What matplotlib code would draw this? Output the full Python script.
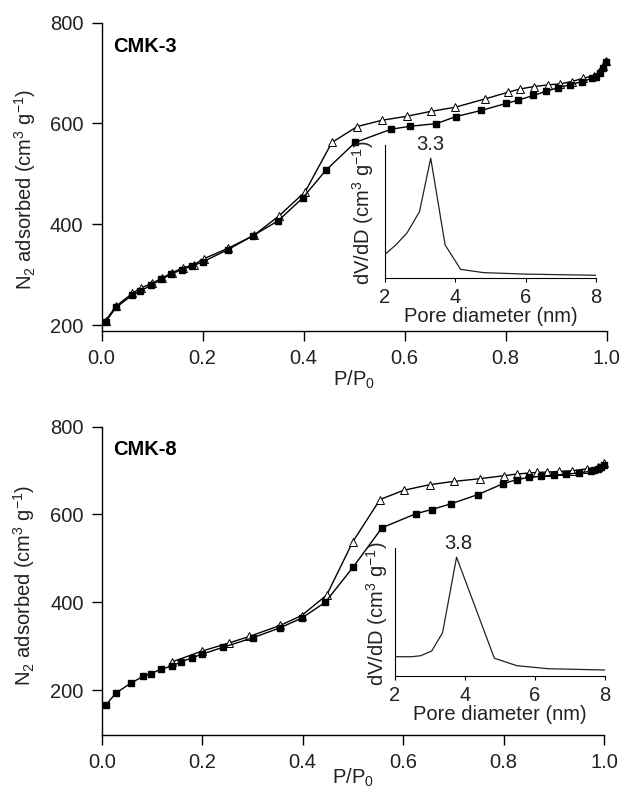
import matplotlib
matplotlib.use("Agg")
import matplotlib.pyplot as plt

plt.rcParams['font.family'] = ['Liberation Sans', 'DejaVu Sans']
plt.rcParams['mathtext.fontset'] = 'custom'
plt.rcParams['mathtext.rm'] = 'Liberation Sans'
plt.rcParams['mathtext.it'] = 'Liberation Sans:italic'
plt.rcParams['mathtext.bf'] = 'Liberation Sans:bold'

# ---------------- data: CMK-3 ----------------
cmk3_ads_p = [0.008, 0.029, 0.061, 0.076, 0.0985, 0.118, 0.138, 0.159, 0.180, 0.200,
              0.250, 0.2995, 0.350, 0.398, 0.444, 0.502, 0.573, 0.611, 0.663, 0.701,
              0.752, 0.801, 0.825, 0.855, 0.879, 0.904, 0.927, 0.951, 0.971, 0.979,
              0.987, 0.993, 0.998]
cmk3_ads_v = [206.6, 235.4, 259.7, 267.6, 279.4, 290.6, 301.1, 310.3, 317.5, 325.4,
              349.7, 377.2, 407.4, 452.1, 507.2, 562.4, 588.6, 594.5, 599.8, 613.6,
              626.0, 639.8, 646.4, 655.6, 663.5, 671.3, 676.6, 683.2, 689.7, 693.0,
              699.6, 709.4, 722.6]
cmk3_des_p = [0.998, 0.993, 0.985, 0.975, 0.953, 0.931, 0.908, 0.883, 0.857, 0.829,
              0.805, 0.760, 0.699, 0.652, 0.604, 0.555, 0.506, 0.456, 0.403, 0.352,
              0.301, 0.250, 0.203, 0.183, 0.161, 0.139, 0.120, 0.100, 0.078, 0.061,
              0.029, 0.008]
cmk3_des_v = [723.8, 714.0, 702.8, 695.0, 689.7, 683.2, 678.6, 676.6, 673.3, 668.7,
              662.1, 649.0, 632.0, 624.1, 614.3, 606.4, 593.9, 562.4, 464.6, 417.3,
              377.9, 352.3, 332.0, 320.2, 313.6, 303.7, 293.9, 282.7, 274.1, 263.0,
              238.0, 209.0]
cmk3_psd_d = [2.0, 2.3, 2.62, 2.98, 3.3, 3.71, 4.15, 4.8, 6.0, 8.0]
cmk3_psd_v = [0.176, 0.245, 0.335, 0.497, 0.90, 0.246, 0.063, 0.038, 0.027, 0.018]
cmk3_peak = 3.3

# ---------------- data: CMK-8 ----------------
cmk8_ads_p = [0.008, 0.029, 0.059, 0.083, 0.098, 0.118, 0.140, 0.158, 0.179, 0.199,
              0.241, 0.301, 0.355, 0.398, 0.445, 0.501, 0.558, 0.625, 0.657, 0.695,
              0.749, 0.799, 0.826, 0.850, 0.874, 0.900, 0.925, 0.950, 0.974, 0.980,
              0.988, 0.994, 1.0]
cmk8_ads_v = [166.0, 194.0, 216.6, 231.7, 237.7, 247.5, 255.1, 264.2, 273.2, 281.5,
              297.4, 319.2, 341.9, 363.8, 400.0, 480.8, 569.8, 601.5, 611.3, 624.2,
              645.3, 670.2, 679.2, 684.5, 686.8, 689.8, 691.3, 695.1, 698.1, 700.4,
              703.4, 708.7, 713.2]
cmk8_des_p = [1.0, 0.988, 0.966, 0.937, 0.911, 0.886, 0.866, 0.850, 0.826, 0.800,
              0.753, 0.702, 0.653, 0.601, 0.554, 0.500, 0.448, 0.398, 0.355, 0.294,
              0.253, 0.200, 0.140]
cmk8_des_v = [717.7, 707.2, 704.2, 699.6, 698.1, 696.6, 695.8, 694.3, 692.1, 688.3,
              681.5, 675.5, 667.9, 655.1, 634.0, 538.1, 416.6, 369.8, 347.2, 322.3,
              307.2, 289.0, 264.2]
cmk8_psd_d = [2.0, 2.48, 2.74, 3.05, 3.36, 3.76, 4.84, 5.48, 6.38, 8.0]
cmk8_psd_v = [0.151, 0.151, 0.159, 0.196, 0.339, 0.93, 0.139, 0.081, 0.057, 0.047]
cmk8_peak = 3.8

yticks = [200, 400, 600, 800]
xticks = [0.0, 0.2, 0.4, 0.6, 0.8, 1.0]
psd_ticks = [2, 4, 6, 8]

FS = 14.5
TXT = '#222222'

fig = plt.figure(figsize=(6.21, 7.90), dpi=100)


def style_main(ax):
    for s in ['top', 'right']:
        ax.spines[s].set_visible(False)
    for s in ['left', 'bottom']:
        ax.spines[s].set_linewidth(1.0)
    ax.tick_params(direction='out', length=7.5, width=1.0, labelsize=FS,
                   labelcolor=TXT, pad=5.5)


def style_inset(ax):
    for s in ['top', 'right']:
        ax.spines[s].set_visible(False)
    for s in ['left', 'bottom']:
        ax.spines[s].set_linewidth(0.8)
    ax.set_yticks([])
    ax.tick_params(axis='x', direction='out', length=3, width=0.8,
                   labelsize=FS, labelcolor=TXT, pad=4.5)


def panel(rect, ylim, ads_p, ads_v, des_p, des_v, name, lab_xy, ylab_xy, xlab_y):
    ax = fig.add_axes(rect)
    ax.plot(ads_p, ads_v, '-', color='black', lw=1.0, marker='s', ms=4.5,
            mfc='black', mec='black', clip_on=False, zorder=3)
    ax.plot(des_p, des_v, '-', color='black', lw=1.0, marker='^', ms=5.5,
            mfc='white', mec='black', mew=0.7, clip_on=False, zorder=2)
    ax.set_xlim(0, 1.0)
    ax.set_ylim(*ylim)
    ax.set_xticks(xticks)
    ax.set_xticklabels([f'{t:.1f}' for t in xticks])
    ax.set_yticks(yticks)
    style_main(ax)
    ax.set_ylabel(r'N$_2$ adsorbed (cm$^3$ g$^{-1}$)', fontsize=FS, color=TXT)
    ax.yaxis.set_label_coords(*ylab_xy)
    ax.yaxis.label.set_verticalalignment('center')
    ax.set_xlabel(r'P/P$_0$', fontsize=FS, color=TXT)
    ax.xaxis.set_label_coords(0.5, xlab_y)
    ax.xaxis.label.set_verticalalignment('center')
    ax.text(lab_xy[0], lab_xy[1], name, transform=ax.transAxes, fontsize=FS,
            fontweight='bold', color='black', ha='left', va='center')
    return ax


def inset(rect, d, v, peak, ylab_x, xlab_y):
    ax = fig.add_axes(rect)
    ax.plot(d, v, '-', color='#222222', lw=0.9)
    ax.set_xlim(2, 8)
    ax.set_ylim(0, 1.0)
    ax.set_xticks(psd_ticks)
    style_inset(ax)
    ax.set_ylabel(r'dV/dD (cm$^3$ g$^{-1}$)', fontsize=FS, color=TXT)
    ax.yaxis.set_label_coords(ylab_x, 0.49)
    ax.yaxis.label.set_verticalalignment('center')
    ax.set_xlabel('Pore diameter (nm)', fontsize=FS, color=TXT)
    ax.xaxis.set_label_coords(0.5, xlab_y)
    ax.xaxis.label.set_verticalalignment('center')
    pv = max(v)
    ax.annotate(f'{peak}', xy=(peak, pv), xytext=(0, 10), textcoords='offset points',
                ha='center', va='center', fontsize=FS, color=TXT,
                annotation_clip=False)
    return ax


panel([0.1635, 0.5814, 0.8135, 0.3899], (189, 800),
      cmk3_ads_p, cmk3_ads_v, cmk3_des_p, cmk3_des_v, 'CMK-3',
      (0.023, 0.924), (-0.151, 0.458), -0.159)
inset([0.620, 0.6485, 0.3397, 0.1680], cmk3_psd_d, cmk3_psd_v, cmk3_peak,
      -0.104, -0.294)

panel([0.1638, 0.0692, 0.8088, 0.3907], (97, 800),
      cmk8_ads_p, cmk8_ads_v, cmk8_des_p, cmk8_des_v, 'CMK-8',
      (0.023, 0.925), (-0.155, 0.485), -0.137)
inset([0.636, 0.1443, 0.3382, 0.1617], cmk8_psd_d, cmk8_psd_v, cmk8_peak,
      -0.087, -0.305)

fig.savefig('out.png', dpi=100)
